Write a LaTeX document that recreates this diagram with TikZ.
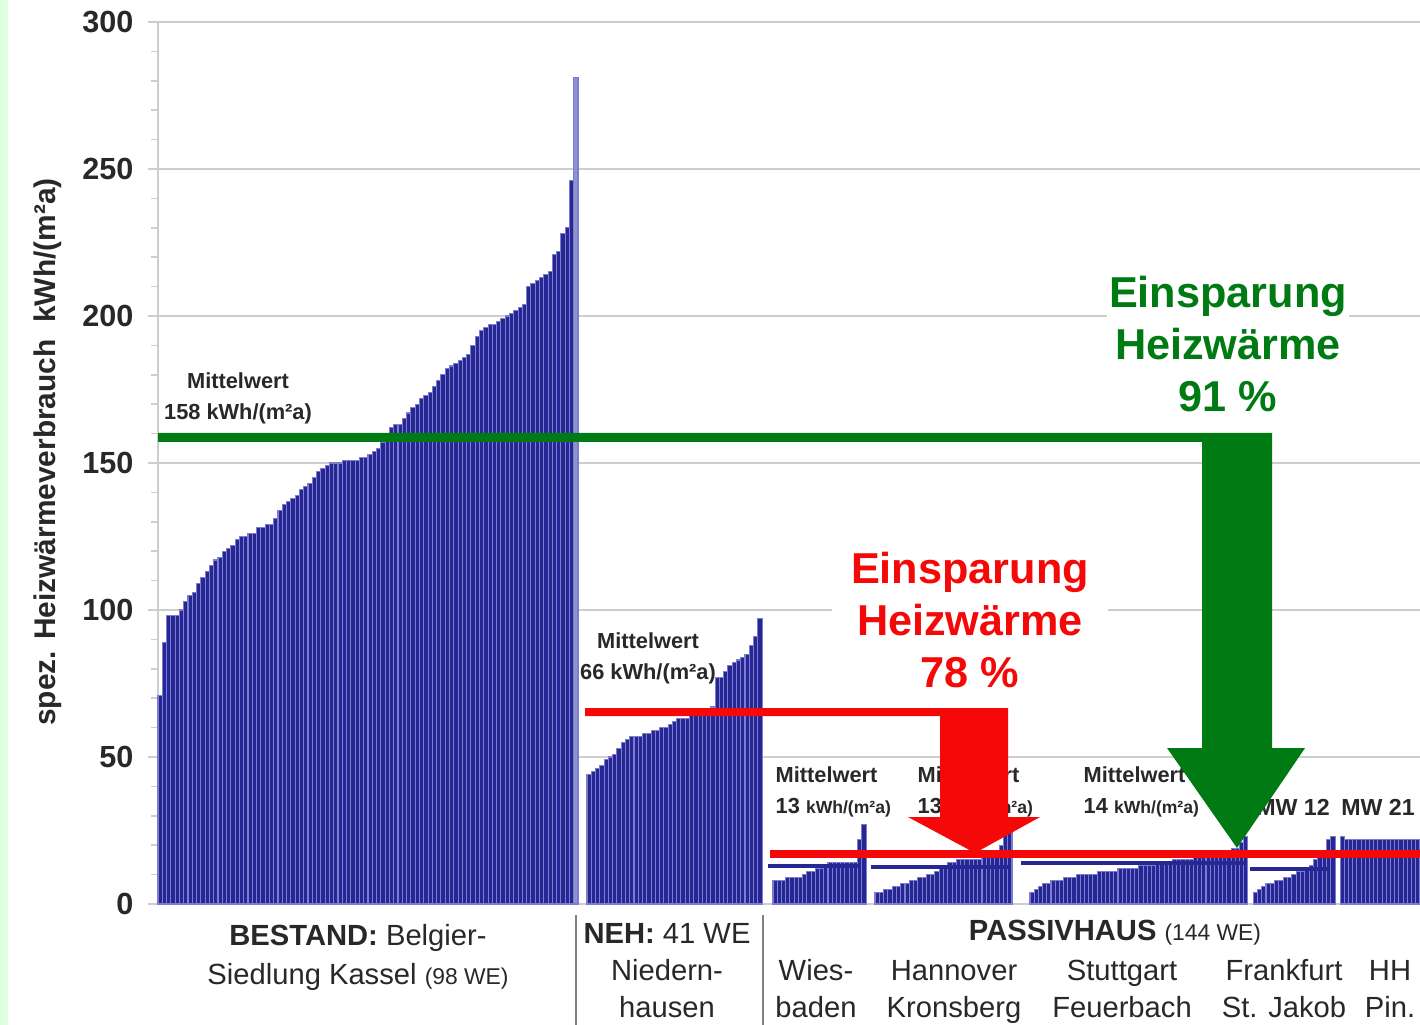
\documentclass[tikz,border=0pt]{standalone}
\usepackage{fontspec}
\setmainfont{Liberation Sans}
\usepackage{xcolor}
\usepackage{tikz}
\usetikzlibrary{positioning}

\definecolor{barblue}{RGB}{38,38,148}
\definecolor{barline}{RGB}{125,125,205}
\definecolor{barpale}{RGB}{145,145,205}
\definecolor{savegreen}{RGB}{0,122,18}
\definecolor{savered}{RGB}{245,8,8}
\definecolor{gridgray}{RGB}{205,205,205}
\definecolor{txtgray}{RGB}{40,40,40}
\definecolor{stripgreen}{RGB}{222,255,222}

\newcommand{\twolines}[2]{\strut#1\\\strut#2}

\begin{document}
\begin{tikzpicture}[
    x=0.1mm, y=-0.1mm,
    gridline/.style = {draw=gridgray, line width=0.5pt},
    barbox/.style = {fill=barblue, draw=barline, line width=0.3pt},
    meanline/.style = {draw=barblue, line width=1.1pt},
    axisnum/.style = {anchor=east, inner sep=0pt, text=txtgray, font=\fontsize{8.7}{10}\selectfont\bfseries},
    mwtext/.style = {align=left, anchor=west, inner sep=0pt, text=txtgray, font=\fontsize{6.2}{8.8}\selectfont\bfseries},
    mwcenter/.style = {mwtext, align=center, anchor=center},
    lbl/.style = {align=center, inner sep=0pt, text=txtgray, font=\fontsize{8.3}{10.5}\selectfont},
    savetext/.style = {align=center, fill=white, inner ysep=2pt, font=\fontsize{12.3}{14.8}\selectfont\bfseries}
]

\useasboundingbox (0,0) rectangle (1420,1025);
\fill[white] (0,0) rectangle (1420,1025);
\fill[stripgreen] (0,0) rectangle (8,1025);

\foreach \v in {0,50,...,300}
    \draw[gridline] (148,{904-2.94*\v}) -- (1420,{904-2.94*\v});
\foreach \v in {10,20,...,290}
    \draw[gridline] (151,{904-2.94*\v}) -- (158,{904-2.94*\v});
\draw[gridline] (158,22) -- (158,904);

\foreach \v in {0,50,...,300}
    \node[axisnum] (n\v) at (134,{904-2.94*\v}) {\v};
\node[rotate=90, text=txtgray, font=\fontsize{8.5}{10}\selectfont\bfseries] (ylab) at (48,452)
    {spez. Heizwärmeverbrauch\ \ kWh/(m²a)};

\foreach \v [count=\i] in {71,89,98,98,98,100,103,105,106,109,111,113,115,117,118,120,121,122,124,125,
    125,126,126,128,128,129,129,131,134,136,137,138,139,141,142,143,145,147,148,149,
    150,150,150,151,151,151,151,152,152,153,154,155,157,159,162,163,163,165,167,169,
    170,172,173,174,176,178,180,182,183,184,185,186,187,190,193,195,196,197,197,198,
    199,200,201,202,203,204,210,211,212,213,214,215,221,222,228,230,246}
    \draw[barbox] ({158+(\i-1)*4.286},904) rectangle ++(4.286,{-2.94*\v});
\draw[barbox, fill=barpale] (573.7,904) rectangle ++(4.286,{-2.94*281});

\foreach \v [count=\i] in {44,45,46,47,49,50,51,53,55,56,57,57,57,58,58,59,59,60,60,61,
    62,63,63,63,64,64,65,65,66,67,77,77,79,81,82,83,84,85,88,91,97}
    \draw[barbox] ({587+(\i-1)*4.27},904) rectangle ++(4.27,{-2.94*\v});

\foreach \v [count=\i] in {8,8,8,9,9,9,9,10,11,11,12,12,13,14,14,14,14,14,14,14,22,27}
    \draw[barbox] ({773+(\i-1)*4.23},904) rectangle ++(4.23,{-2.94*\v});
\foreach \v [count=\i] in {4,4,5,5,6,6,7,7,8,8,9,9,10,10,11,12,13,14,14,15,15,15,15,15,15,16,16,16,17,20,24,27}
    \draw[barbox] ({875+(\i-1)*4.28},904) rectangle ++(4.28,{-2.94*\v});
\foreach \v [count=\i] in {4,5,6,7,7,8,8,8,9,9,9,10,10,10,10,10,11,11,11,11,11,12,12,12,12,12,
    13,13,13,13,14,14,14,14,15,15,15,15,15,16,16,16,16,17,17,17,18,18,19,19,21,23}
    \draw[barbox] ({1030+(\i-1)*4.19},904) rectangle ++(4.19,{-2.94*\v});
\foreach \v [count=\i] in {4,5,6,7,7,8,8,9,9,10,11,11,12,13,15,16,17,22,23}
    \draw[barbox] ({1253+(\i-1)*4.32},904) rectangle ++(4.32,{-2.94*\v});
\foreach \v [count=\i] in {23,22,22,22,22,22,22,22,22,22,22,22,22,22,22,22,22,22,22}
    \draw[barbox] ({1340+(\i-1)*4.21},904) rectangle ++(4.21,{-2.94*\v});

\draw[meanline] (768,866) -- (861,866);
\draw[meanline] (871,867) -- (1008,867);
\draw[meanline] (1021,863) -- (1244,863);
\draw[meanline] (1250,869) -- (1330,869);

\node[mwcenter] (mwbestand) at (238,398) {Mittelwert\\158 kWh/(m²a)};
\node[mwcenter] (mwneh) at (648,658) {Mittelwert\\66 kWh/(m²a)};
\node[mwtext] (mwwies) at (775,792) {Mittelwert\\13 {\fontsize{5}{6}\selectfont kWh/(m²a)}};
\node[mwtext] (mwhann) at (917,792) {Mittelwert\\13 {\fontsize{5}{6}\selectfont kWh/(m²a)}};
\node[mwtext] (mwstutt) at (1083,792) {Mittelwert\\14 {\fontsize{5}{6}\selectfont kWh/(m²a)}};
\node[mwcenter, font=\fontsize{6.6}{8}\selectfont\bfseries] (mwfrank) at (1293,807) {MW 12};
\node[mwcenter, font=\fontsize{6.6}{8}\selectfont\bfseries] (mwhh) at (1378,807) {MW 21};

\fill[savegreen] (158,433) -- (1272,433) -- (1272,748) -- (1305,748) -- (1237,848)
    -- (1167,748) -- (1202,748) -- (1202,442) -- (158,442) -- cycle;
\fill[savered] (585,708) -- (1008,708) -- (1008,817) -- (1040,817) -- (975,853)
    -- (908,817) -- (940,817) -- (940,716) -- (585,716) -- cycle;
\fill[savered] (770,850) rectangle (1420,858);

\node[savetext, text=savegreen, inner xsep=0.6pt] (savegr) at (1228,344) {Einsparung\\Heizwärme\\91 \%};
\node[savetext, text=savered, inner xsep=5.5pt] (savere) at (970,620) {Einsparung\\Heizwärme\\78 \%};

\draw[gridline, draw=gray] (576,915) -- (576,1025);
\draw[gridline, draw=gray] (763,915) -- (763,1025);

\node[lbl] (bestand) at (358,938) {\textbf{BESTAND:} Belgier-};
\node[lbl] (kassel) at (358,977) {Siedlung Kassel {\fontsize{6.5}{8}\selectfont(98 WE)}};
\node[lbl] (neh) at (667,933) {\textbf{NEH:} 41 WE};
\node[lbl] (niedern) at (667,992) {\twolines{Niedern-}{hausen}};
\node[lbl] (passiv) at (1115,933) {\textbf{PASSIVHAUS} {\fontsize{6.5}{8}\selectfont(144 WE)}};
\node[lbl] (wies) at (816,992) {\twolines{Wies-}{baden}};
\node[lbl] (hann) at (954,992) {\twolines{Hannover}{Kronsberg}};
\node[lbl] (stutt) at (1122,992) {\twolines{Stuttgart}{Feuerbach}};
\node[lbl] (frank) at (1284,992) {\twolines{Frankfurt}{St. Jakob}};
\node[lbl] (hh) at (1390,992) {\twolines{HH}{Pin.}};

\end{tikzpicture}
\end{document}
